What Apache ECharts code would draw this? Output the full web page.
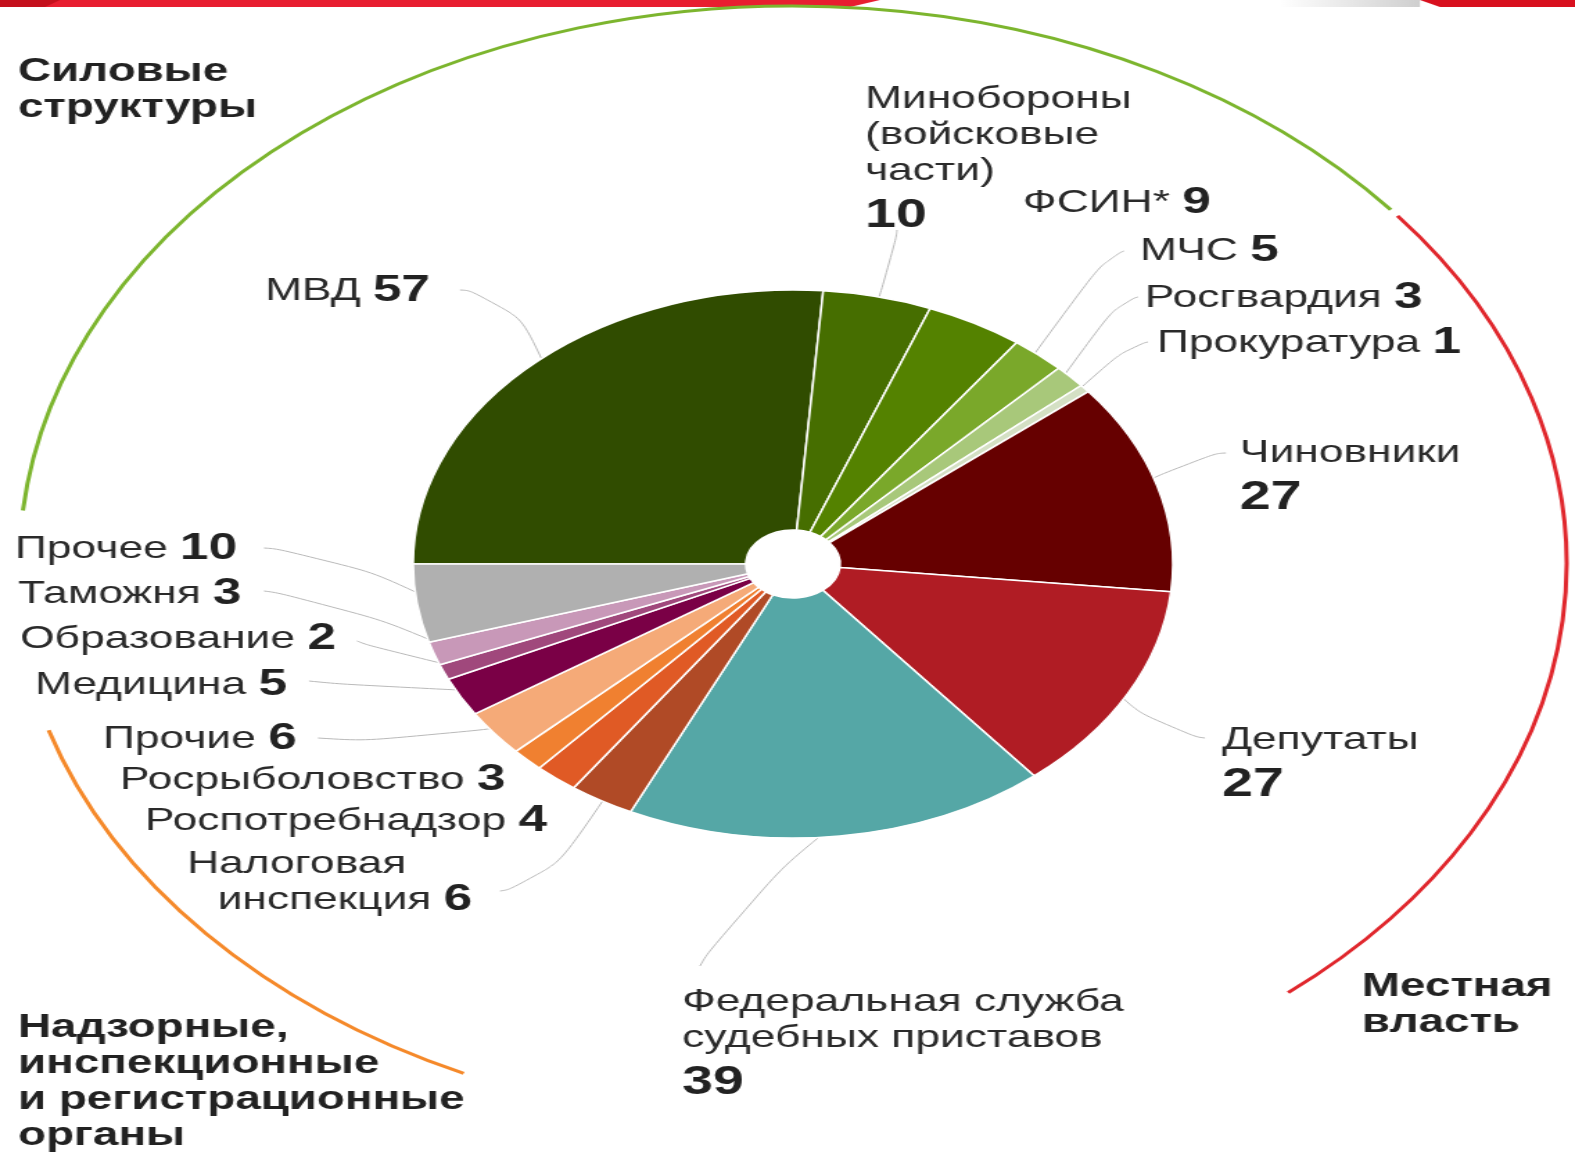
<!DOCTYPE html>
<html>
<head>
<meta charset="utf-8">
<script src="https://cdn.jsdelivr.net/npm/echarts@6/dist/echarts.min.js"></script>
<style>
  html, body { margin: 0; padding: 0; background: #fff; overflow: hidden; }
  /* исходная картинка растянута по горизонтали, поэтому рисуем узко и растягиваем */
  #chart { width: 1136px; height: 1158px; transform: scaleX(1.3864); transform-origin: 0 0; }
</style>
</head>
<body>
<div id="chart"></div>
<script>
// данные
const names = [
  'МВД', 'Минобороны\n(войсковые\nчасти)', 'ФСИН*', 'МЧС', 'Росгвардия', 'Прокуратура',
  'Чиновники', 'Депутаты', 'Федеральная служба\nсудебных приставов',
  'Налоговая\nинспекция', 'Роспотребнадзор', 'Росрыболовство', 'Прочие',
  'Медицина', 'Образование', 'Таможня', 'Прочее'
]
const values = [57, 10, 9, 5, 3, 1, 27, 27, 39, 6, 4, 3, 6, 5, 2, 3, 10]
// значение на отдельной строке
const valueOnNewLine = [false, true, false, false, false, false, true, true, true,
  false, false, false, false, false, false, false, false]
const colors = [
  '#304c00', '#466e00', '#548200', '#7aa82a', '#a8c87a', '#d4e0c4',
  '#660000', '#b01c24', '#55a7a6', '#b04a26', '#e05a25', '#f08030',
  '#f5aa78', '#7a0046', '#a0487c', '#c898b8', '#b0b0b0'
]
const groupTitles = ['Силовые\nструктуры', 'Местная\nвласть',
  'Надзорные,\nинспекционные\nи регистрационные\nорганы']

// раскладка (в пикселях исходной картинки)
const S = 1575 / 1136
const CX = 793 / S
const CY = 564
const R = 274
const R0 = 34
// [left, top, lineEndX, lineEndY, bendX, bendY]
const labelPos = [
  [265, 273, 460, 290, 510, 292],
  [865, 81, 897, 230, 893, 268],
  [1023, 185],
  [1140, 233, 1124, 251, 1105, 258],
  [1145, 280, 1138, 297, 1118, 302],
  [1157, 325, 1148, 342, 1128, 346],
  [1240, 435, 1226, 453, 1175, 455],
  [1222, 722, 1205, 738, 1160, 733],
  [682, 984, 700, 966, 735, 905],
  [187, 846, 500, 891, 545, 885],
  [145, 803],
  [120, 762],
  [103, 721, 318, 738, 430, 745],
  [35, 667, 309, 681, 400, 690],
  [20, 621, 357, 641, 405, 660],
  [18, 576, 264, 591, 335, 600],
  [15, 531, 264, 548, 330, 552]
]

const FONT = '"Liberation Sans", Arial, sans-serif'
const total = values.reduce((a, b) => a + b, 0)

function midAngle (i) {
  let before = 0
  for (let k = 0; k < i; k++) before += values[k]
  return Math.PI + (before + values[i] / 2) / total * Math.PI * 2
}

function labelText (p) {
  const i = p.dataIndex
  const lines = names[i].split('\n')
  let out = lines.map((l, k) => (k > 0 && i === 9 ? '{ni|' + l + '}' : '{n|' + l + '}')).join('\n')
  if (valueOnNewLine[i]) out += '\n{vb|' + values[i] + '}'
  else out += '{n| }{v|' + values[i] + '}'
  return out
}

const chart = echarts.init(document.getElementById('chart'))
const option = {
  animation: false,
  graphic: {
    elements: [
      { type: 'polygon', shape: { points: [[0, 0], [880 / S, 0], [850 / S, 7], [0, 7]] }, style: { fill: '#e81e30' } },
      { type: 'polygon', shape: { points: [[0, 0], [60 / S, 0], [45 / S, 7], [0, 7]] }, style: { fill: '#c4101c' } },
      {
        type: 'rect', shape: { x: 1280 / S, y: 0, width: 140 / S, height: 7 },
        style: { fill: new echarts.graphic.LinearGradient(0, 0, 1, 0, [{ offset: 0, color: '#ffffff' }, { offset: 1, color: '#cfcfcf' }]) }
      },
      { type: 'polygon', shape: { points: [[1420 / S, 0], [1575 / S, 0], [1575 / S, 7], [1440 / S, 7]] }, style: { fill: '#d8101e' } },
      {
        type: 'arc', shape: { cx: CX, cy: CY, r: 558, startAngle: 185.5 * Math.PI / 180, endAngle: 320.6 * Math.PI / 180, clockwise: true },
        style: { stroke: '#7cb52e', lineWidth: 3, fill: null }
      },
      {
        type: 'arc', shape: { cx: CX, cy: CY, r: 558, startAngle: -38.6 * Math.PI / 180, endAngle: 50.2 * Math.PI / 180, clockwise: true },
        style: { stroke: '#e0262c', lineWidth: 3, fill: null }
      },
      {
        type: 'arc', shape: { cx: CX, cy: CY, r: 562, startAngle: 115 * Math.PI / 180, endAngle: 162.8 * Math.PI / 180, clockwise: true },
        style: { stroke: '#f5892a', lineWidth: 3, fill: null }
      },
      {
        type: 'text', left: 18 / S, top: 54,
        style: { text: groupTitles[0], font: 'bold 33px ' + FONT, lineHeight: 36, fill: '#222' }
      },
      {
        type: 'text', left: 1362 / S, top: 969,
        style: { text: groupTitles[1], font: 'bold 33px ' + FONT, lineHeight: 36, fill: '#222' }
      },
      {
        type: 'text', left: 18 / S, top: 1010,
        style: { text: groupTitles[2], font: 'bold 33px ' + FONT, lineHeight: 36, fill: '#222' }
      }
    ]
  },
  series: [{
    type: 'pie',
    center: [CX, CY],
    radius: [R0, R],
    startAngle: 180,
    clockwise: true,
    silent: true,
    avoidLabelOverlap: false,
    itemStyle: { borderColor: '#fff', borderWidth: 1.5 },
    emphasis: { disabled: true },
    label: {
      show: true,
      position: 'outside',
      formatter: labelText,
      rich: {
        n: { fontFamily: FONT, fontSize: 32, lineHeight: 36, color: '#2a2a2a' },
        ni: { fontFamily: FONT, fontSize: 32, lineHeight: 36, color: '#2a2a2a', padding: [0, 0, 0, 22] },
        v: { fontFamily: FONT, fontSize: 37, fontWeight: 'bold', lineHeight: 36, color: '#222' },
        vb: { fontFamily: FONT, fontSize: 40, fontWeight: 'bold', lineHeight: 54, color: '#222' }
      }
    },
    labelLine: { show: true, smooth: 0.8, lineStyle: { color: '#b9b9b9', width: 1 } },
    labelLayout: function (params) {
      const i = params.dataIndex
      const L = labelPos[i]
      const res = { x: L[0] / S, y: L[1], align: 'left', verticalAlign: 'top' }
      if (L.length > 2) {
        const a = midAngle(i)
        const ax = CX + 0.95 * R * Math.cos(a)
        const ay = CY + 0.95 * R * Math.sin(a)
        res.labelLinePoints = [[ax, ay], [L[4] / S, L[5]], [L[2] / S, L[3]]]
      }
      return res
    },
    data: names.map((n, i) => {
      const item = { name: n, value: values[i], itemStyle: { color: colors[i] } }
      if (labelPos[i].length === 2) item.labelLine = { show: false }
      return item
    })
  }]
}
chart.setOption(option)
</script>
</body>
</html>
